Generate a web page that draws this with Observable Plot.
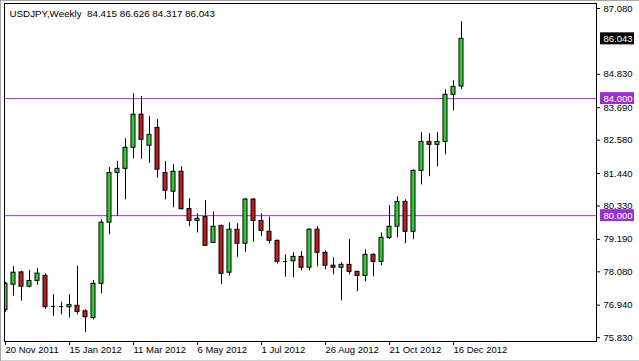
<!DOCTYPE html>
<html>
<head>
<meta charset="utf-8">
<script src="https://cdn.jsdelivr.net/npm/d3@7"></script>
<script src="https://cdn.jsdelivr.net/npm/@observablehq/plot@0.6"></script>
<style>
  html, body { margin: 0; padding: 0; background: #ffffff; }
  #wrap { position: relative; width: 639px; height: 361px; overflow: hidden; }
  #wrap::after { content: ""; position: absolute; left: 0; top: 0; right: 0; bottom: 0;
    box-shadow: inset 1px 1px 0 #a8a8a8, inset 0 -1px 0 #d0d0d0; pointer-events: none; }
  svg text { white-space: pre; }
</style>
</head>
<body>
<div id="wrap"></div>
<script>
// ---- data ----
const symbol = "USDJPY";
const period = "Weekly";
const weeks = [
  "2011-11-20","2011-11-27","2011-12-04","2011-12-11","2011-12-18","2011-12-25",
  "2012-01-01","2012-01-08","2012-01-15","2012-01-22","2012-01-29","2012-02-05",
  "2012-02-12","2012-02-19","2012-02-26","2012-03-04","2012-03-11","2012-03-18",
  "2012-03-25","2012-04-01","2012-04-08","2012-04-15","2012-04-22","2012-04-29",
  "2012-05-06","2012-05-13","2012-05-20","2012-05-27","2012-06-03","2012-06-10",
  "2012-06-17","2012-06-24","2012-07-01","2012-07-08","2012-07-15","2012-07-22",
  "2012-07-29","2012-08-05","2012-08-12","2012-08-19","2012-08-26","2012-09-02",
  "2012-09-09","2012-09-16","2012-09-23","2012-09-30","2012-10-07","2012-10-14",
  "2012-10-21","2012-10-28","2012-11-04","2012-11-11","2012-11-18","2012-11-25",
  "2012-12-02","2012-12-09","2012-12-16","2012-12-23"
];
const open  = [76.78,77.64,78.06,77.57,77.77,77.94,76.90,76.89,76.87,76.92,76.73,76.50,
               77.67,79.76,81.46,81.60,82.32,83.45,82.39,83.00,81.46,80.82,81.50,80.23,
               79.82,79.95,79.07,79.65,78.05,79.52,79.04,80.55,79.82,79.45,79.14,78.43,
               78.44,78.59,78.22,79.52,78.73,78.29,78.22,78.32,78.08,77.94,78.66,78.42,
               79.24,79.62,80.47,79.45,81.53,82.52,82.42,82.52,84.13,84.415];
const high  = [77.72,78.26,78.10,78.13,78.19,78.01,77.30,77.04,77.30,78.27,76.78,77.78,
               79.86,81.64,81.85,82.63,84.16,84.07,83.39,83.28,81.85,81.74,81.67,80.58,
               80.06,80.51,80.13,79.68,79.76,79.72,80.59,80.58,80.06,79.95,79.16,78.66,
               78.73,78.77,79.55,79.62,78.80,78.56,78.39,79.18,78.10,78.83,78.70,79.41,
               80.34,80.64,80.54,81.57,82.83,82.80,82.83,84.30,84.61,86.626];
const low   = [76.70,77.25,77.08,77.53,77.62,76.80,76.56,76.61,76.50,76.61,76.00,76.44,
               77.33,79.35,79.97,80.54,81.94,81.93,81.79,81.28,80.54,80.27,80.20,79.62,
               79.41,78.95,79.05,77.64,77.94,78.58,78.75,79.09,79.28,79.04,78.35,77.90,
               77.88,78.12,78.12,78.25,78.15,77.98,77.09,77.98,77.40,77.74,77.91,78.29,
               79.18,79.24,79.04,79.18,81.05,81.33,81.67,82.08,83.58,84.317];
const close = [77.67,78.05,77.57,77.77,78.02,76.87,76.90,76.89,76.95,76.71,76.53,77.67,
               79.76,81.46,81.60,82.32,83.45,82.59,82.76,81.57,80.85,81.50,80.22,79.82,
               79.89,78.97,79.62,78.01,79.52,79.04,80.55,79.82,79.48,79.14,78.42,78.43,
               78.59,78.22,79.52,78.73,78.29,78.22,78.32,78.08,77.94,78.66,78.42,79.24,
               79.62,80.47,79.45,81.53,82.52,82.42,82.52,84.13,84.40,86.043];
const levels = [84.0, 80.0];
const yTicks = [87.080, 84.830, 83.690, 82.580, 81.440, 80.330, 79.190, 78.080, 76.940, 75.830];
const xTickDates = ["2011-11-20","2012-01-15","2012-03-11","2012-05-06","2012-07-01",
                    "2012-08-26","2012-10-21","2012-12-16"];

// ---- build ----
const parse = d3.utcParse("%Y-%m-%d");
const candles = weeks.map((w, i) => ({
  date: parse(w), open: open[i], high: high[i], low: low[i], close: close[i]
}));
const last = candles[candles.length - 1];
const f3 = d3.format(".3f");
const titleText = `${symbol},${period}  ${f3(last.open)} ${f3(last.high)} ${f3(last.low)} ${f3(last.close)}`;

const GREEN = "#32cd32", RED = "#c01f1f", PURPLE = "#9932cc";
const d0 = candles[0].date;
const halfBody = 42; // hours (body half-width)
const left = d3.utcHour.offset(d0, -21);
const right = d3.utcHour.offset(d0, Math.round(73.875 * 168));
const font = "'Liberation Sans', Arial, sans-serif";
const labelVals = [...levels, last.close];
const labelFill = [PURPLE, PURPLE, "#000"];

const chart = Plot.plot({
  width: 639,
  height: 361,
  marginLeft: 4,
  marginRight: 43,
  marginTop: 3,
  marginBottom: 20,
  style: { fontFamily: font, fontSize: "9.5px", color: "#000", background: "#fff", overflow: "visible" },
  x: { type: "utc", domain: [left, right] },
  y: { domain: [75.699, 87.251] },
  marks: [
    Plot.ruleY(levels, { stroke: PURPLE, strokeWidth: 1 }),
    Plot.ruleX(candles, { x: "date", y1: "low", y2: "high", stroke: "#000", clip: true }),
    Plot.rect(candles.filter(d => d.open !== d.close), {
      x1: d => d3.utcHour.offset(d.date, -halfBody),
      x2: d => d3.utcHour.offset(d.date, halfBody),
      y1: d => Math.min(d.open, d.close),
      y2: d => Math.max(d.open, d.close),
      fill: d => d.close >= d.open ? GREEN : RED,
      stroke: "#000", strokeWidth: 1, clip: true
    }),
    Plot.ruleY(candles.filter(d => d.open === d.close), {
      y: "open",
      x1: d => d3.utcHour.offset(d.date, -halfBody),
      x2: d => d3.utcHour.offset(d.date, halfBody),
      stroke: "#000"
    }),
    Plot.frame({ stroke: "#000" }),
    Plot.axisX({
      ticks: xTickDates.map(parse), tickFormat: d3.utcFormat("%-d %b %Y"),
      tickSize: 4, tickPadding: 1, textAnchor: "start", label: null, fill: "#000"
    }),
    Plot.axisY({
      anchor: "right", ticks: yTicks, tickFormat: f3,
      tickSize: 3, tickPadding: 4, label: null, fill: "#000"
    }),
    Plot.text([titleText], {
      frameAnchor: "top-left", dx: 5, dy: 10, lineAnchor: "middle",
      textAnchor: "start", fill: "#000", fontSize: 9.8
    }),
    Plot.text(labelVals, {
      y: d => d, text: d => f3(d), frameAnchor: "right", dx: 7,
      textAnchor: "start", fill: "#ffffff"
    })
  ]
});

// background boxes for price labels, positioned through Plot's y scale,
// inserted just below the last mark (the price-label texts)
const ys = chart.scale("y");
const ns = "http://www.w3.org/2000/svg";
const boxG = document.createElementNS(ns, "g");
labelVals.forEach((v, i) => {
  const r = document.createElementNS(ns, "rect");
  r.setAttribute("x", 639 - 43 + 4);
  r.setAttribute("y", ys.apply(v) - 6);
  r.setAttribute("width", 34);
  r.setAttribute("height", 12);
  r.setAttribute("fill", labelFill[i]);
  boxG.appendChild(r);
});
const topGroups = Array.from(chart.children).filter(n => n.tagName.toLowerCase() === "g");
const lastMark = topGroups[topGroups.length - 1];
chart.insertBefore(boxG, lastMark);

document.getElementById("wrap").appendChild(chart);
</script>
</body>
</html>
